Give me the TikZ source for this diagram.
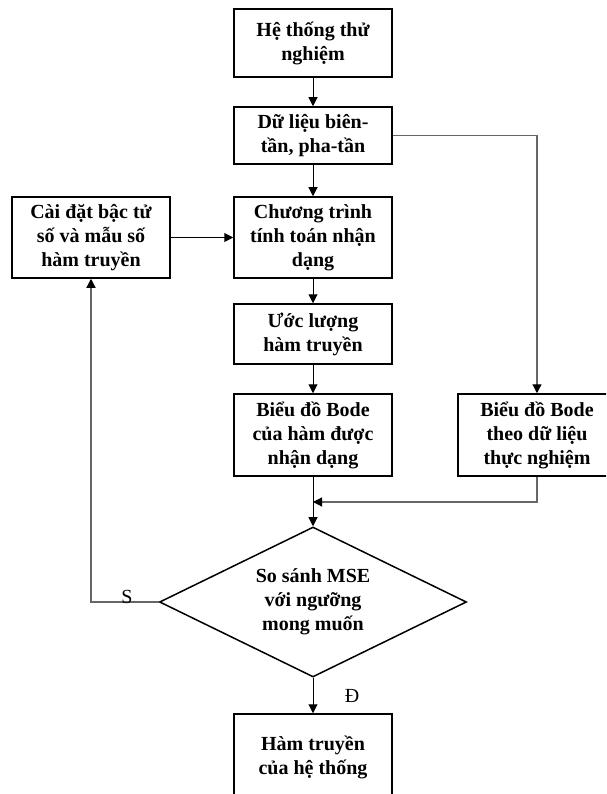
\documentclass[tikz,border=0pt]{standalone}
\usepackage{fontspec}
\setmainfont{Liberation Serif}
\usetikzlibrary{arrows.meta,shapes.geometric}

\begin{document}
\begin{tikzpicture}[x=1pt, y=-1pt,
    block/.style={draw, line width=1.5pt, minimum width=158pt, inner sep=0pt, align=center, font=\fontsize{20}{24}\selectfont\bfseries},
    decide/.style={block, diamond, aspect=2, minimum width=307pt, minimum height=150pt},
    flow/.style={line width=1pt, -{Triangle[length=9pt, width=9pt]}},
    link/.style={flow, line width=1.2pt, draw=black!60, -{Triangle[length=9pt, width=9pt, color=black]}},
    tag/.style={font=\fontsize{20}{24}\selectfont}]
    \useasboundingbox (0,0) rectangle (606,794);
    \clip (0,0) rectangle (606,794);
    % main column
    \node[block, minimum height=68pt] (sys) at (313,43) {Hệ thống thử\\nghiệm};
    \node[block, minimum height=57pt] (data) at (313,135.5) {Dữ liệu biên-\\tần, pha-tần};
    \node[block, minimum height=81pt] (prog) at (313,237.5) {Chương trình\\tính toán nhận\\dạng};
    \node[block, minimum height=81pt] (setup) at (91,237.5) {Cài đặt bậc tử\\số và mẫu số\\hàm truyền};
    \node[block, minimum height=60pt] (est) at (313,334) {Ước lượng\\hàm truyền};
    \node[block, minimum height=82pt] (bode1) at (313,435) {Biểu đồ Bode\\của hàm được\\nhận dạng};
    \node[block, minimum height=82pt] (bode2) at (537,435) {Biểu đồ Bode\\theo dữ liệu\\thực nghiệm};
    \node[decide] (cmp) at (313,602) {So sánh MSE\\với ngưỡng\\mong muốn};
    \node[block, minimum height=87pt] (tf) at (313,757.5) {Hàm truyền\\của hệ thống};
    \coordinate (mrg) at (313,502);
    % connectors
    \draw[flow] (sys) -- (data);
    \draw[flow] (data) -- (prog);
    \draw[flow] (setup) -- (prog);
    \draw[flow] (prog) -- (est);
    \draw[flow] (est) -- (bode1);
    \draw[flow] (bode1) -- (cmp);
    \draw[link] (data.east) -| (bode2.north);
    \draw[link] (bode2.south) |- (mrg);
    \draw[link] (cmp.west) -| (setup.south);
    \draw[flow] (cmp) -- (tf);
    \node[tag] (no) at (127,597) {S};
    \node[tag] (yes) at (352,696) {Đ};
\end{tikzpicture}
\end{document}
